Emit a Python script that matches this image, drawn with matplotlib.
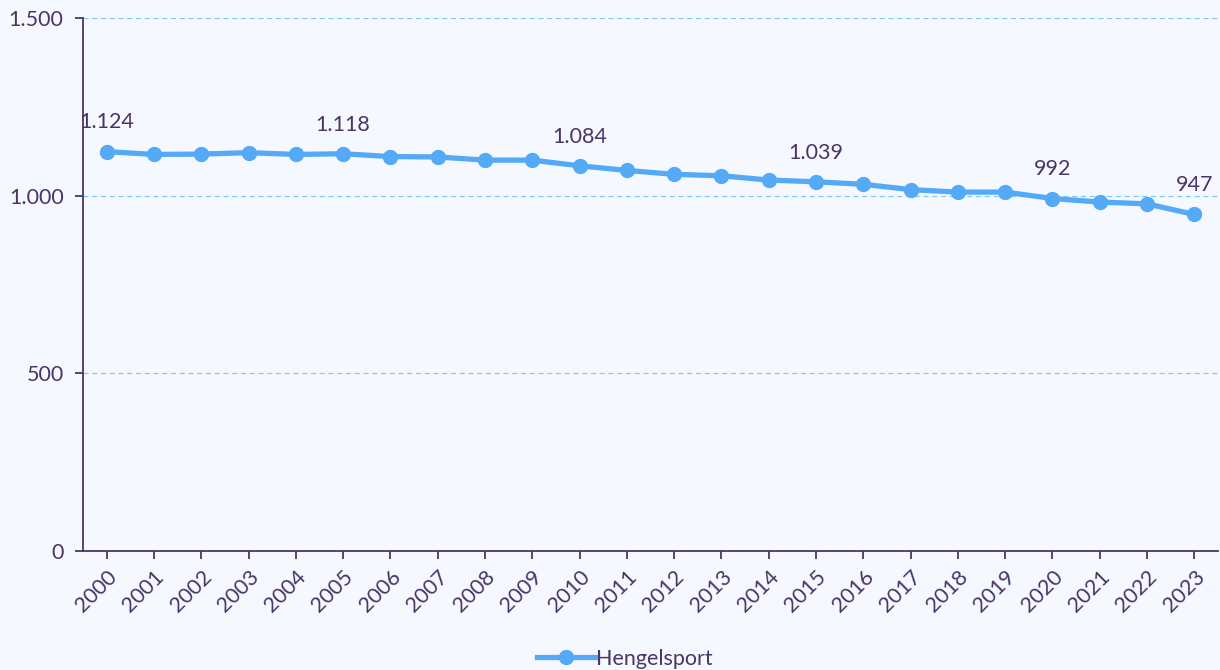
import matplotlib
matplotlib.use("Agg")
import matplotlib.pyplot as plt
from matplotlib.ticker import FuncFormatter

years = [str(y) for y in range(2000, 2024)]
values = [1124, 1116, 1117, 1121, 1116, 1118, 1110, 1109, 1100, 1100, 1084, 1071,
          1060, 1056, 1044, 1039, 1032, 1017, 1010, 1010, 992, 982, 977, 947]
label_years = ["2000", "2005", "2010", "2015", "2020", "2023"]
series_name = "Hengelsport"
yticks = [0, 500, 1000, 1500]

BG = "#F5F8FE"
TXT = "#4A3566"
LINE = "#54AAF7"
GRID = "#7ECBF2"

plt.rcParams['font.family'] = ['Lato', 'DejaVu Sans']

fig = plt.figure(figsize=(12.2, 6.7), dpi=100, facecolor=BG)
ax = fig.add_axes([83/1220, 1 - 551/670, (1218-83)/1220, (551-18)/670])
ax.set_facecolor(BG)

x = list(range(len(years)))
ax.plot(x, values, color=LINE, lw=3.8, marker='o', ms=10, label=series_name,
        solid_joinstyle='round', zorder=3)

fmt = lambda v: f"{v:,.0f}".replace(",", ".")
for i, (yr, v) in enumerate(zip(years, values)):
    if yr in label_years:
        ax.annotate(fmt(v), (i, v), xytext=(0, 21), textcoords='offset points',
                    ha='center', va='center', fontsize=15.5, color=TXT)

ax.set_xlim(-0.5, len(years) - 0.5)
ax.set_ylim(0, 1500)
ax.set_yticks(yticks)
ax.yaxis.set_major_formatter(FuncFormatter(lambda v, p: fmt(v)))
ax.set_xticks(x)
ax.set_xticklabels(years, rotation=45, ha='right', rotation_mode='anchor')
ax.grid(axis='y', color=GRID, linestyle=(0, (4, 3)), lw=0.9)
ax.set_axisbelow(True)

for s in ['top', 'right']:
    ax.spines[s].set_visible(False)
for s in ['left', 'bottom']:
    ax.spines[s].set_color(TXT)
    ax.spines[s].set_linewidth(1.3)
ax.tick_params(axis='both', colors=TXT, labelcolor=TXT, labelsize=15.5,
               length=6, width=1.3, direction='out')
ax.tick_params(axis='y', pad=8)
ax.tick_params(axis='x', pad=5)

leg = fig.legend(loc='lower center', bbox_to_anchor=(0.512, -0.027), frameon=False,
                 fontsize=15.5, handlelength=2.7, handletextpad=0.05, labelcolor=TXT)

fig.savefig("out.png", dpi=100, facecolor=BG)
